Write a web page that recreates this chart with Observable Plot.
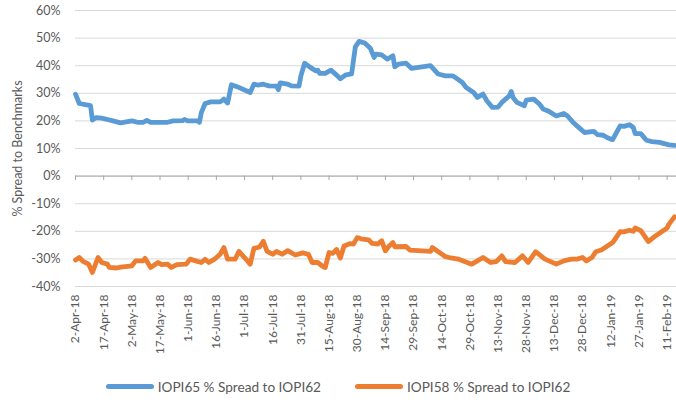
<!DOCTYPE html>
<html>
<head>
<meta charset="utf-8">
<script src="https://cdn.jsdelivr.net/npm/d3@7"></script>
<script src="https://cdn.jsdelivr.net/npm/@observablehq/plot@0.6"></script>
<style>
  body { margin: 0; background: #fff; font-family: Lato, "Open Sans", sans-serif; }
  #chart svg { display: block; }
  .legend { display: flex; justify-content: center; align-items: center; height: 33px; font-size: 13.6px; color: #595959; }
  .legend .item { display: flex; align-items: center; margin: 0 17px; }
  .legend .sw { width: 48px; height: 5px; border-radius: 3px; margin-right: 4px; }
</style>
</head>
<body>
<div id="chart"></div>
<div class="legend" id="legend"></div>
<script>
const seriesNames = ["IOPI65 % Spread to IOPI62", "IOPI58 % Spread to IOPI62"];
const seriesColors = ["#5B9BD5", "#ED7D31"];
const yTicks = [-40, -30, -20, -10, 0, 10, 20, 30, 40, 50, 60];
const xTickDates = ["2018-04-02","2018-04-17","2018-05-02","2018-05-17","2018-06-01","2018-06-16","2018-07-01","2018-07-16","2018-07-31","2018-08-15","2018-08-30","2018-09-14","2018-09-29","2018-10-14","2018-10-29","2018-11-13","2018-11-28","2018-12-13","2018-12-28","2019-01-12","2019-01-27","2019-02-11"];
const xDomain = ["2018-04-02", "2019-02-16"];

const blueDates = ["2018-04-02","2018-04-04","2018-04-10","2018-04-11","2018-04-13","2018-04-16","2018-04-19","2018-04-22","2018-04-26","2018-05-02","2018-05-05","2018-05-08","2018-05-10","2018-05-12","2018-05-21","2018-05-24","2018-05-29","2018-05-30","2018-06-01","2018-06-06","2018-06-07","2018-06-08","2018-06-10","2018-06-13","2018-06-18","2018-06-20","2018-06-22","2018-06-24","2018-06-27","2018-07-04","2018-07-06","2018-07-08","2018-07-11","2018-07-14","2018-07-18","2018-07-19","2018-07-20","2018-07-24","2018-07-26","2018-07-30","2018-07-31","2018-08-02","2018-08-05","2018-08-08","2018-08-09","2018-08-10","2018-08-13","2018-08-16","2018-08-19","2018-08-21","2018-08-24","2018-08-27","2018-08-29","2018-08-31","2018-09-03","2018-09-06","2018-09-08","2018-09-09","2018-09-12","2018-09-15","2018-09-18","2018-09-19","2018-09-21","2018-09-25","2018-09-28","2018-10-08","2018-10-12","2018-10-16","2018-10-20","2018-10-25","2018-10-27","2018-10-31","2018-11-02","2018-11-05","2018-11-07","2018-11-10","2018-11-13","2018-11-15","2018-11-19","2018-11-20","2018-11-21","2018-11-23","2018-11-27","2018-11-28","2018-12-02","2018-12-05","2018-12-07","2018-12-10","2018-12-14","2018-12-18","2018-12-20","2018-12-23","2018-12-25","2018-12-29","2019-01-03","2019-01-05","2019-01-08","2019-01-10","2019-01-12","2019-01-13","2019-01-17","2019-01-19","2019-01-22","2019-01-24","2019-01-25","2019-01-28","2019-01-31","2019-02-03","2019-02-07","2019-02-12","2019-02-15"];
const blueValues = [29.7,26.3,25.5,20.3,21.2,21.0,20.5,20.0,19.3,20.0,19.5,19.5,20.2,19.5,19.5,20.0,20.1,20.5,20.0,20.0,19.5,23.0,26.3,26.9,26.9,27.9,26.5,33.1,32.4,30.3,33.3,33.0,33.3,32.7,32.6,31.3,33.8,33.3,32.7,32.6,36.3,40.9,39.4,38.1,38.4,37.2,37.2,38.4,36.6,35.3,36.7,37.0,46.8,48.8,48.2,46.3,43.0,44.2,43.9,42.4,43.6,39.6,40.6,40.9,39.0,40.0,37.0,36.3,36.3,33.9,32.1,30.3,28.5,29.7,27.3,24.9,25.0,26.7,29.1,30.7,28.5,26.7,25.5,27.5,27.9,26.1,24.3,23.5,21.8,22.7,21.8,19.4,18.2,15.8,16.2,15.0,14.8,14.0,13.4,13.2,18.2,18.0,18.6,17.6,15.4,15.4,13.0,12.5,12.2,11.3,11.1];

const orangeDates = ["2018-04-02","2018-04-04","2018-04-06","2018-04-09","2018-04-11","2018-04-14","2018-04-16","2018-04-19","2018-04-20","2018-04-24","2018-04-26","2018-05-02","2018-05-04","2018-05-08","2018-05-09","2018-05-12","2018-05-16","2018-05-18","2018-05-21","2018-05-23","2018-05-26","2018-05-31","2018-06-02","2018-06-05","2018-06-08","2018-06-10","2018-06-12","2018-06-15","2018-06-18","2018-06-20","2018-06-22","2018-06-26","2018-06-28","2018-07-01","2018-07-04","2018-07-06","2018-07-09","2018-07-11","2018-07-13","2018-07-16","2018-07-18","2018-07-21","2018-07-24","2018-07-28","2018-08-01","2018-08-04","2018-08-06","2018-08-09","2018-08-12","2018-08-13","2018-08-15","2018-08-17","2018-08-19","2018-08-21","2018-08-23","2018-08-26","2018-08-28","2018-08-30","2018-09-01","2018-09-05","2018-09-07","2018-09-10","2018-09-12","2018-09-14","2018-09-16","2018-09-18","2018-09-19","2018-09-25","2018-09-27","2018-10-08","2018-10-09","2018-10-12","2018-10-16","2018-10-18","2018-10-23","2018-10-30","2018-11-02","2018-11-05","2018-11-09","2018-11-12","2018-11-15","2018-11-17","2018-11-22","2018-11-26","2018-11-29","2018-12-03","2018-12-08","2018-12-14","2018-12-18","2018-12-22","2018-12-25","2018-12-28","2018-12-30","2019-01-02","2019-01-04","2019-01-07","2019-01-11","2019-01-13","2019-01-17","2019-01-19","2019-01-22","2019-01-24","2019-01-25","2019-01-28","2019-02-01","2019-02-05","2019-02-11","2019-02-12","2019-02-15"];
const orangeValues = [-30.4,-29.5,-30.9,-31.9,-34.9,-29.5,-31.3,-31.9,-33.1,-33.3,-33.0,-32.5,-30.7,-30.7,-29.8,-33.1,-31.3,-32.1,-31.9,-33.1,-32.1,-31.9,-30.1,-30.7,-31.3,-30.1,-31.3,-30.1,-28.3,-25.9,-30.1,-30.1,-27.3,-29.5,-31.9,-26.2,-25.7,-23.6,-27.3,-28.3,-27.3,-28.3,-27.0,-28.6,-27.8,-28.3,-31.3,-31.3,-32.9,-33.1,-27.7,-28.0,-26.6,-29.7,-25.3,-24.5,-24.6,-22.3,-22.7,-23.1,-24.4,-24.6,-23.4,-27.1,-25.3,-24.1,-25.6,-25.5,-26.8,-27.3,-25.9,-27.3,-29.2,-29.5,-30.1,-31.9,-30.7,-29.5,-31.3,-31.0,-28.9,-31.0,-31.3,-28.9,-31.3,-27.4,-30.1,-31.9,-30.7,-30.1,-30.1,-29.5,-30.7,-29.5,-27.4,-26.8,-25.0,-24.1,-20.1,-20.2,-19.6,-20.0,-18.8,-19.8,-23.7,-21.6,-18.8,-17.4,-14.7];

const parse = d3.utcParse("%Y-%m-%d");
const blue = blueDates.map((d, i) => ({date: parse(d), v: blueValues[i]}));
const orange = orangeDates.map((d, i) => ({date: parse(d), v: orangeValues[i]}));
const ticks = xTickDates.map(parse);
const fmt = d3.utcFormat("%-d-%b-%y");
const font = "Lato, 'Open Sans', sans-serif";

const chart = Plot.plot({
  width: 676,
  height: 370,
  marginTop: 10,
  marginLeft: 75,
  marginRight: 0,
  marginBottom: 84,
  style: {fontFamily: font, fontSize: "12px", color: "#595959", background: "#fff"},
  x: {type: "utc", domain: xDomain.map(parse)},
  y: {domain: [-40, 60]},
  marks: [
    Plot.gridY(yTicks, {stroke: "#d9d9d9", strokeOpacity: 1, strokeWidth: 1}),
    Plot.axisY(yTicks, {tickSize: 0, tickPadding: 15, tickFormat: d => d + "%", fill: "#595959", fontSize: 12.5,
      label: "% Spread to Benchmarks", labelAnchor: "center", labelArrow: "none", labelOffset: 62}),
    Plot.axisX(ticks, {tickSize: 0, tickPadding: 8, tickRotate: -90, tickFormat: fmt, fill: "#595959", fontSize: 12, label: null}),
    Plot.ruleY([0], {stroke: "#a6a6a6", strokeWidth: 1}),
    Plot.ruleX(ticks, {x: d => d, y1: 0, y2: -1.6, stroke: "#a6a6a6", strokeWidth: 1}),
    Plot.lineY(blue, {x: "date", y: "v", stroke: seriesColors[0], strokeWidth: 4.8, strokeLinejoin: "round", strokeLinecap: "round"}),
    Plot.lineY(orange, {x: "date", y: "v", stroke: seriesColors[1], strokeWidth: 4.8, strokeLinejoin: "round", strokeLinecap: "round"})
  ]
});
document.getElementById("chart").appendChild(chart);

const legend = document.getElementById("legend");
seriesNames.forEach((name, i) => {
  const item = document.createElement("div");
  item.className = "item";
  const sw = document.createElement("div");
  sw.className = "sw";
  sw.style.background = seriesColors[i];
  const t = document.createElement("span");
  t.textContent = name;
  item.appendChild(sw);
  item.appendChild(t);
  legend.appendChild(item);
});
</script>
</body>
</html>
